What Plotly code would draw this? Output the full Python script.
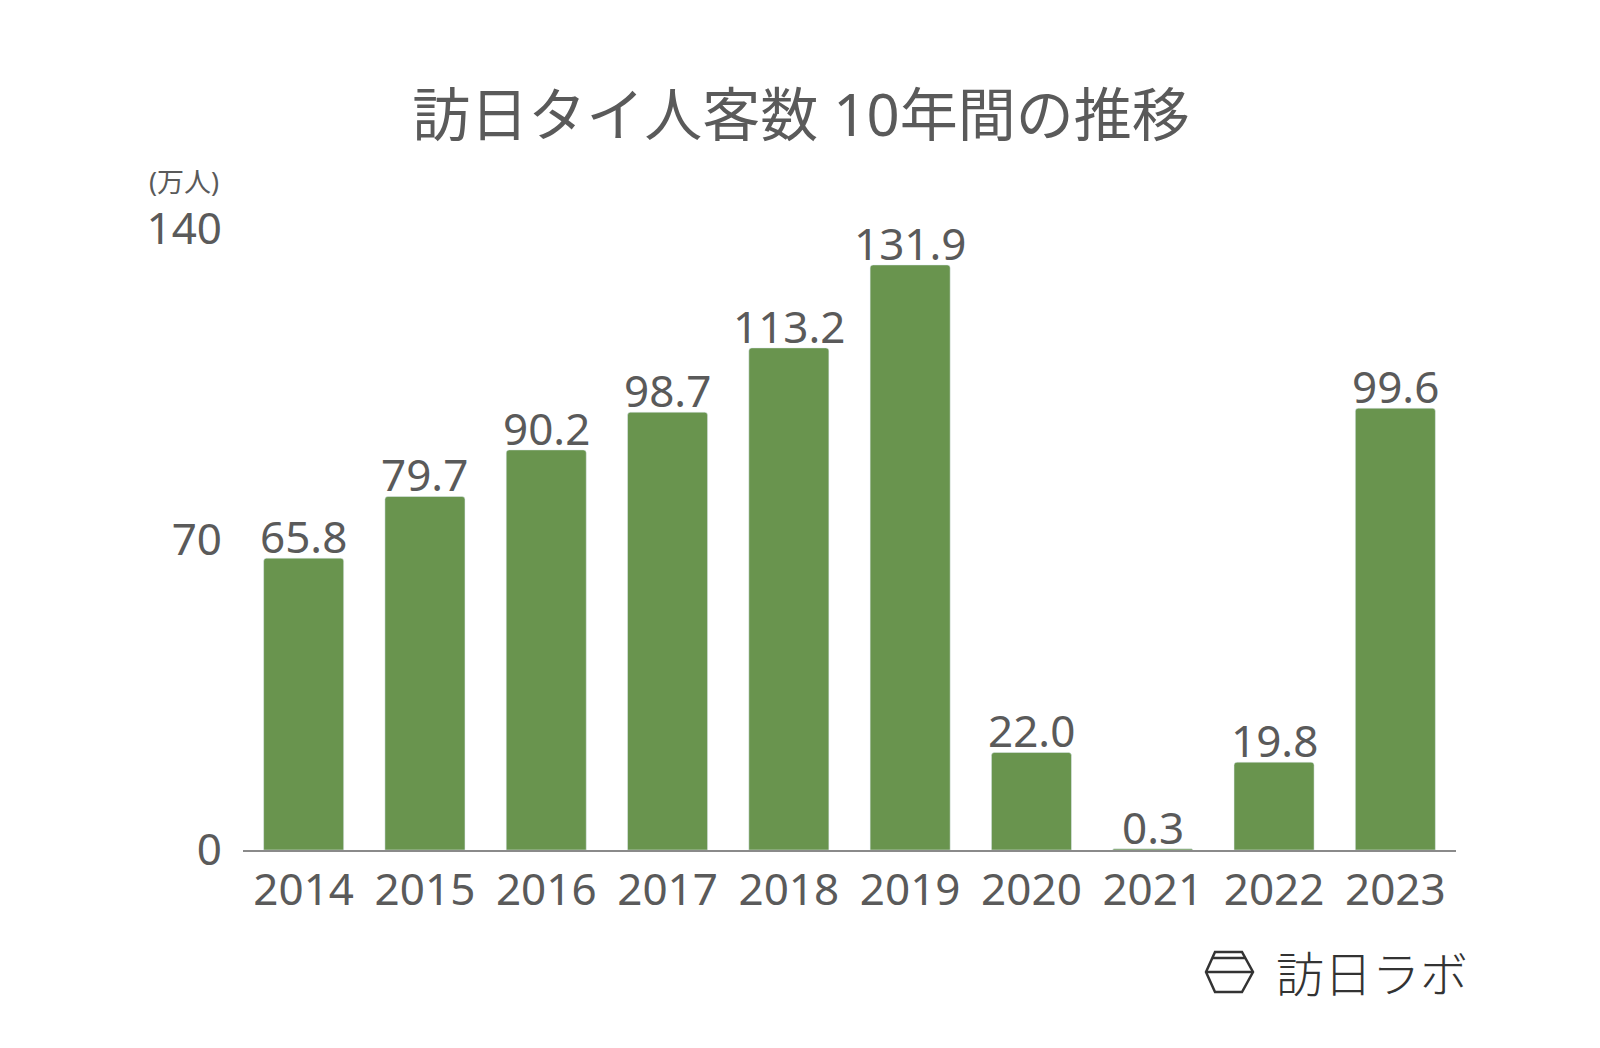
import plotly.graph_objects as go

years = ["2014", "2015", "2016", "2017", "2018", "2019", "2020", "2021", "2022", "2023"]
visitors = [65.8, 79.7, 90.2, 98.7, 113.2, 131.9, 22.0, 0.3, 19.8, 99.6]
y_ticks = [0, 70, 140]

title_text = "訪日タイ人客数 10年間の推移"
unit_text = "(万人)"
logo_text = "訪日ラボ"

W, H = 1600, 1048
L, R, T, B = 243, 144, 229, 198
PW, PH = W - L - R, H - T - B

def px(x):
    return (x - L) / PW

def py(y):
    return (H - B - y) / PH

FONT = "Noto Sans, Noto Sans CJK JP, sans-serif"
TXT = "#5a5a5a"

fig = go.Figure()
fig.add_trace(go.Bar(
    x=years, y=visitors,
    marker=dict(color="#69944e", cornerradius=3),
    width=0.66,
    hoverinfo="x+y",
))

# value labels: on a category axis, annotation x is the category index
value_labels = [
    dict(x=i, y=v, xref="x", yref="y", text=f"{v:.1f}", showarrow=False,
         xanchor="center", yanchor="bottom", yshift=-10,
         font=dict(size=44, color=TXT, family=FONT))
    for i, v in enumerate(visitors)
]

# logo hexagon
hx = [(1215, 952), (1242, 952), (1253, 972), (1242, 992), (1215, 992), (1206, 972)]
path = "M " + " L ".join(f"{px(a)},{py(b)}" for a, b in hx) + " Z"
shapes = [
    dict(type="path", xref="paper", yref="paper", path=path,
         line=dict(color="#333333", width=2.5)),
    dict(type="line", xref="paper", yref="paper", x0=px(1206), x1=px(1253), y0=py(972), y1=py(972),
         line=dict(color="#333333", width=2.5)),
    dict(type="line", xref="paper", yref="paper", x0=px(1212), x1=px(1245), y0=py(958), y1=py(958),
         line=dict(color="#333333", width=2.5)),
]

fig.update_layout(
    width=W, height=H,
    margin=dict(l=L, r=R, t=T, b=B),
    paper_bgcolor="white", plot_bgcolor="white",
    showlegend=False,
    title=dict(text=title_text, x=801 / W, xanchor="center", y=1 - 116 / H, yanchor="middle",
               font=dict(size=58, color=TXT, family=FONT)),
    xaxis=dict(type="category", range=[-0.5, len(years) - 0.5], showgrid=False, showline=True,
               linecolor="#8a8a8a", linewidth=1.5,
               tickfont=dict(size=44, color=TXT, family=FONT), ticks="", ticklabelstandoff=0),
    yaxis=dict(range=[0, 140], tickvals=y_ticks, showgrid=False, zeroline=False, showline=False,
               tickfont=dict(size=44, color=TXT, family=FONT), ticks="", ticklabelstandoff=20),
    shapes=shapes,
    annotations=value_labels + [
        dict(text=unit_text, xref="paper", yref="paper", x=px(221), y=py(181), xanchor="right",
             yanchor="middle", showarrow=False, font=dict(size=27, color=TXT, family=FONT)),
        dict(text=logo_text, xref="paper", yref="paper", x=px(1274), y=py(971), xanchor="left",
             yanchor="middle", showarrow=False,
             font=dict(size=48, color="#333333", family="Noto Sans CJK JP", weight=300)),
    ],
)

fig.write_html("out.html")
